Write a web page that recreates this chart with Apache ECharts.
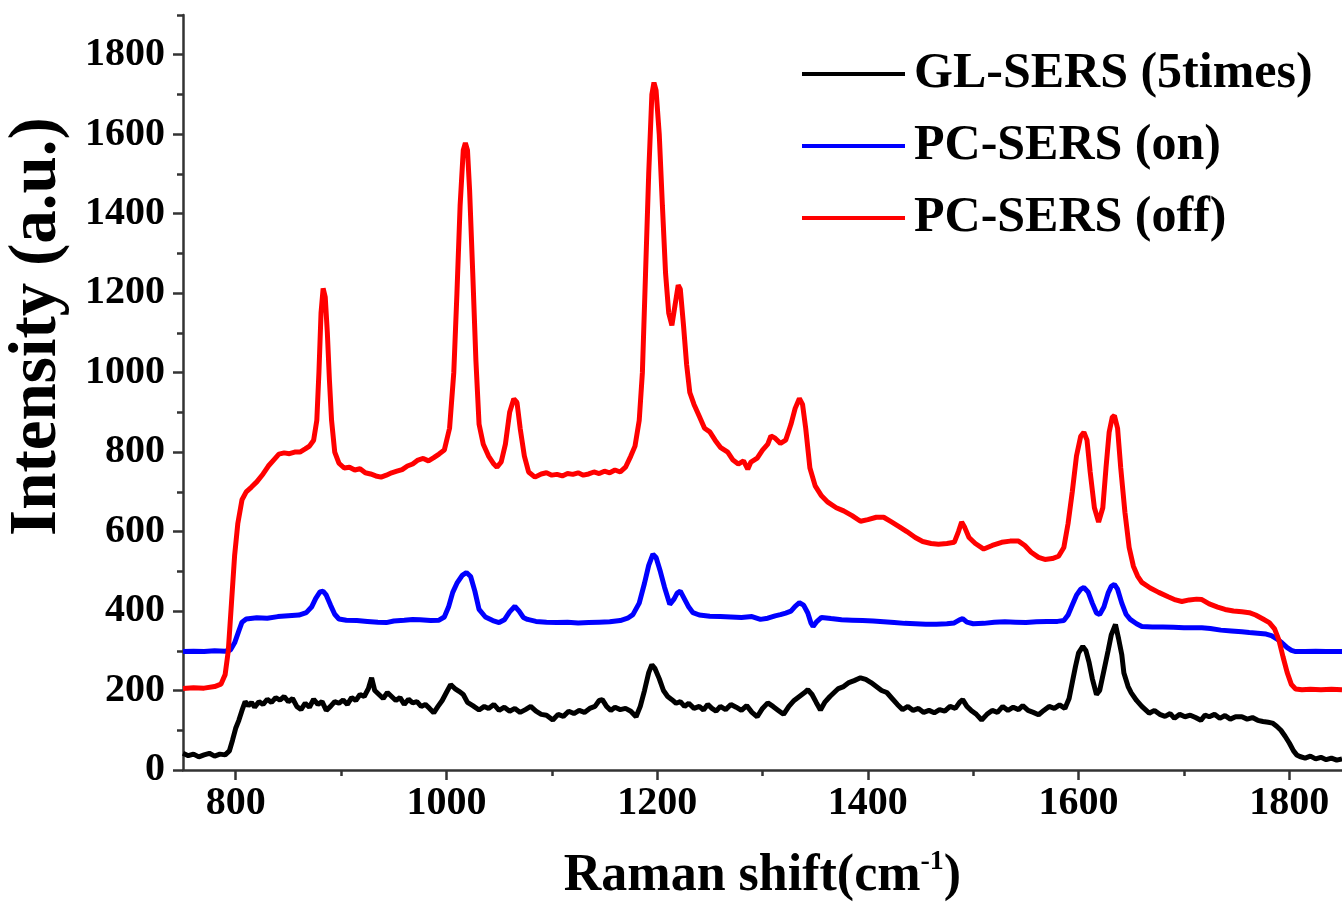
<!DOCTYPE html>
<html>
<head>
<meta charset="utf-8">
<title>Raman spectra</title>
<script src="https://cdn.jsdelivr.net/npm/echarts@6/dist/echarts.min.js"></script>
<style>
  html, body { margin: 0; padding: 0; background: #fff; }
  #chart { width: 1342px; height: 908px; }
</style>
</head>
<body>
<div id="chart"></div>
<script>
// GL-SERS (5times)
const glX = [750,755,760,765,770,775,780,785,790,794,797,800,803,806,809,812,815,818,822,826,830,834,838,842,846,850,854,858,862,866,870,874,878,882,886,890,894,898,902,906,910,914,918,922,926,929,932,936,940,944,948,952,956,960,964,968,972,976,980,984,988,992,996,1000,1004,1008,1012,1016,1020,1025,1031,1036,1040,1045,1050,1055,1060,1065,1070,1075,1080,1085,1090,1095,1101,1106,1111,1116,1121,1126,1131,1136,1141,1145,1148,1152,1156,1160,1165,1170,1175,1180,1184,1188,1192,1195,1198,1202,1206,1210,1214,1218,1222,1226,1230,1235,1240,1244,1248,1252,1256,1260,1265,1270,1275,1280,1285,1290,1295,1300,1305,1310,1315,1320,1325,1330,1335,1340,1343,1347,1351,1355,1359,1364,1368,1372,1377,1382,1387,1393,1398,1403,1408,1413,1418,1423,1428,1433,1438,1443,1448,1453,1458,1463,1468,1473,1478,1483,1487,1490,1494,1498,1503,1508,1513,1518,1523,1528,1533,1538,1543,1547,1552,1557,1562,1567,1572,1577,1582,1587,1591,1594,1597,1600,1604,1607,1610,1613,1617,1620,1624,1628,1631,1635,1638,1641,1643,1647,1650,1655,1660,1667,1672,1677,1682,1687,1691,1696,1701,1706,1711,1716,1720,1724,1729,1734,1739,1744,1749,1755,1760,1765,1770,1775,1780,1784,1788,1792,1796,1800,1804,1807,1810,1815,1820,1825,1830,1835,1840,1845,1850];
const glY = [42,36,40,33,38,42,35,40,38,48,75,105,125,150,172,162,170,158,172,165,178,170,182,176,185,172,180,160,152,168,158,178,165,172,150,160,172,168,176,165,182,175,190,185,205,232,200,190,180,195,185,175,182,165,178,169,172,160,165,155,144,160,175,195,215,205,198,190,170,162,151,160,155,165,150,158,148,155,145,152,160,148,140,138,126,140,135,148,142,150,145,155,160,175,177,160,150,158,152,155,148,134,160,200,245,265,255,230,200,185,177,168,172,160,168,155,160,151,165,155,148,160,152,165,158,150,162,145,134,155,169,160,150,140,160,175,185,195,202,190,170,151,170,185,195,205,210,220,225,232,228,220,210,200,195,180,165,152,160,150,155,145,150,144,152,148,160,155,170,177,160,150,140,126,140,150,145,160,150,158,152,162,150,145,139,150,160,155,164,155,180,220,260,295,311,300,270,230,190,200,250,300,340,366,330,290,244,210,194,175,160,143,150,140,135,142,130,140,134,138,132,125,138,134,140,130,137,128,134,134,128,132,125,122,120,118,110,100,85,68,48,38,34,30,35,28,32,26,30,25,28];

// PC-SERS (on)
const onX = [750,760,770,780,790,795,799,803,806,810,820,830,840,850,860,867,872,876,880,883,886,890,894,898,905,915,925,935,943,950,960,968,975,985,993,998,1002,1006,1010,1015,1019,1023,1027,1031,1037,1044,1050,1055,1060,1065,1069,1073,1077,1085,1095,1105,1115,1125,1135,1145,1155,1165,1172,1177,1183,1188,1192,1196,1199,1203,1207,1212,1216,1219,1222,1226,1230,1234,1240,1250,1260,1270,1280,1290,1298,1305,1312,1317,1322,1327,1331,1335,1339,1343,1346,1348,1351,1356,1365,1375,1385,1395,1405,1415,1425,1435,1445,1455,1465,1475,1482,1487,1490,1494,1500,1510,1520,1530,1540,1550,1560,1570,1580,1586,1590,1594,1598,1602,1605,1609,1613,1617,1620,1624,1628,1631,1634,1637,1641,1645,1649,1655,1660,1670,1680,1690,1700,1710,1717,1725,1735,1745,1755,1762,1770,1778,1783,1788,1793,1798,1802,1806,1815,1825,1835,1850];
const onY = [298,299,298,300,299,302,320,350,372,380,383,382,386,388,390,396,410,432,448,450,440,415,392,380,377,376,374,372,371,375,377,379,378,376,377,385,410,447,470,490,497,487,450,404,385,376,371,378,398,412,400,384,379,374,372,371,372,370,371,372,373,376,382,391,420,470,515,543,535,500,460,417,430,445,450,430,410,396,390,387,386,385,384,386,379,382,388,391,395,400,412,421,415,395,370,361,372,384,381,378,377,376,375,373,371,369,368,367,367,368,370,378,381,372,368,369,372,373,372,371,373,374,374,376,390,415,440,455,459,448,420,395,391,410,445,462,467,455,420,392,379,368,361,360,360,359,358,358,358,356,352,350,348,346,344,342,338,330,320,308,301,298,298,299,298,298];

// PC-SERS (off)
const offX = [750,760,770,780,786,790,793,796,799,802,806,810,815,820,826,831,836,841,846,851,856,861,866,870,874,877,879,881,883,885,887,889,891,894,898,903,908,913,918,923,928,933,938,943,948,953,958,963,968,973,978,983,988,993,998,1003,1007,1010,1013,1016,1018,1020,1022,1025,1028,1031,1035,1040,1045,1048,1052,1056,1060,1064,1067,1070,1074,1078,1084,1090,1095,1100,1105,1110,1115,1120,1125,1130,1135,1140,1145,1150,1155,1160,1165,1170,1175,1179,1183,1186,1189,1192,1195,1197,1199,1202,1205,1208,1211,1214,1217,1220,1222,1225,1228,1231,1235,1240,1245,1250,1255,1260,1267,1272,1277,1282,1286,1289,1295,1300,1305,1308,1312,1317,1322,1327,1331,1335,1338,1341,1345,1350,1356,1362,1370,1377,1385,1393,1400,1408,1415,1422,1430,1437,1445,1452,1460,1467,1475,1482,1486,1489,1492,1496,1502,1510,1518,1527,1535,1543,1549,1555,1562,1568,1575,1581,1586,1590,1594,1598,1602,1605,1608,1611,1615,1619,1623,1626,1629,1632,1634,1637,1640,1644,1648,1652,1656,1660,1668,1676,1685,1692,1698,1705,1712,1717,1724,1732,1739,1747,1755,1762,1768,1775,1781,1786,1790,1794,1798,1802,1806,1812,1820,1830,1840,1850];
const offY = [205,207,206,210,216,240,300,420,540,620,680,700,712,725,745,765,780,795,798,796,800,800,808,815,830,880,1000,1150,1212,1190,1100,980,880,800,772,760,762,755,758,748,745,740,737,742,748,752,756,765,770,780,784,778,786,795,805,860,1000,1200,1420,1560,1578,1560,1460,1250,1030,870,820,790,770,762,775,820,900,934,925,860,790,750,737,745,748,742,744,740,746,744,748,742,745,750,746,752,748,755,750,762,790,815,880,1000,1250,1500,1700,1730,1710,1600,1420,1250,1150,1119,1170,1220,1210,1120,1020,950,920,890,860,851,830,812,800,780,770,778,757,775,785,805,820,841,835,822,830,870,910,935,920,860,760,715,690,674,660,652,640,626,630,636,636,625,612,600,585,575,570,568,570,573,600,624,610,585,570,556,565,573,576,576,565,548,535,530,532,538,560,620,700,790,840,850,830,750,660,624,660,760,850,888,892,860,760,648,560,513,488,472,458,447,436,428,424,428,430,429,418,410,404,400,398,396,390,380,371,355,328,285,245,215,204,202,203,202,203,202];

const xMajor = [800, 1000, 1200, 1400, 1600, 1800];
const xMinor = [900, 1100, 1300, 1500, 1700];
const yMajor = [0, 200, 400, 600, 800, 1000, 1200, 1400, 1600, 1800];
const yMinor = [100, 300, 500, 700, 900, 1100, 1300, 1500, 1700, 1900];

const names = ['GL-SERS (5times)', 'PC-SERS (on)', 'PC-SERS (off)'];
const colors = ['#000000', '#0000ff', '#ff0000'];

const font = 'Liberation Serif';
const axisColor = '#333';

function pairs(xs, ys) {
    return xs.map((x, i) => [x, ys[i]]);
}

const chart = echarts.init(document.getElementById('chart'));

const option = {
    backgroundColor: '#fff',
    animation: false,
    grid: {
        left: 183,
        right: 0,
        top: 15,
        bottom: 138,
        containLabel: false,
        outerBoundsMode: 'none'
    },
    legend: {
        orient: 'vertical',
        left: 797,
        top: 44,
        itemWidth: 103,
        itemHeight: 4,
        itemGap: 22,
        icon: 'rect',
        data: names,
        textStyle: {
            fontFamily: font,
            fontWeight: 'bold',
            fontSize: 50,
            lineHeight: 50,
            color: '#000',
            padding: [0, 0, 0, 4]
        }
    },
    xAxis: [{
        type: 'value',
        min: 750,
        max: 1850,
        name: 'Raman shift(cm{sup|-1})',
        nameLocation: 'middle',
        nameGap: 78,
        nameTextStyle: {
            fontFamily: font,
            fontWeight: 'bold',
            fontSize: 52,
            lineHeight: 58,
            color: '#000',
            rich: {
                sup: {
                    fontFamily: font,
                    fontWeight: 'bold',
                    fontSize: 28,
                    lineHeight: 58,
                    verticalAlign: 'top',
                    color: '#000'
                }
            }
        },
        splitLine: { show: false },
        axisLine: { show: true, onZero: false, lineStyle: { color: axisColor, width: 2.5 } },
        axisTick: { show: true, length: 10, customValues: xMajor, lineStyle: { color: axisColor, width: 2.5 } },
        axisLabel: {
            customValues: xMajor,
            formatter: v => String(v),
            margin: 14,
            fontFamily: font,
            fontWeight: 'bold',
            fontSize: 40,
            color: '#000'
        }
    }, {
        type: 'value',
        min: 750,
        max: 1850,
        position: 'bottom',
        splitLine: { show: false },
        axisLine: { show: false },
        axisTick: { show: true, length: 6, customValues: xMinor, lineStyle: { color: axisColor, width: 2.5 } },
        axisLabel: { show: false }
    }],
    yAxis: [{
        type: 'value',
        min: 0,
        max: 1900,
        name: 'Intensity (a.u.)',
        nameLocation: 'middle',
        nameRotate: 90,
        nameGap: 112,
        nameTextStyle: {
            fontFamily: font,
            fontWeight: 'bold',
            fontSize: 67,
            color: '#000',
            padding: [0, 0, 0, 132]
        },
        splitLine: { show: false },
        axisLine: { show: true, onZero: false, lineStyle: { color: axisColor, width: 2.5 } },
        axisTick: { show: true, length: 10, customValues: yMajor, lineStyle: { color: axisColor, width: 2.5 } },
        axisLabel: {
            customValues: yMajor,
            formatter: v => String(v),
            margin: 18,
            fontFamily: font,
            fontWeight: 'bold',
            fontSize: 40,
            color: '#000'
        }
    }, {
        type: 'value',
        min: 0,
        max: 1900,
        position: 'left',
        splitLine: { show: false },
        axisLine: { show: false },
        axisTick: { show: true, length: 6, customValues: yMinor, lineStyle: { color: axisColor, width: 2.5 } },
        axisLabel: { show: false }
    }],
    series: [
        { name: names[0], data: pairs(glX, glY) },
        { name: names[1], data: pairs(onX, onY) },
        { name: names[2], data: pairs(offX, offY) }
    ].map((s, i) => ({
        ...s,
        type: 'line',
        xAxisIndex: 0,
        yAxisIndex: 0,
        symbol: 'none',
        color: colors[i],
        lineStyle: { color: colors[i], width: 5 },
        z: 2 + i
    }))
};

chart.setOption(option);
</script>
</body>
</html>
